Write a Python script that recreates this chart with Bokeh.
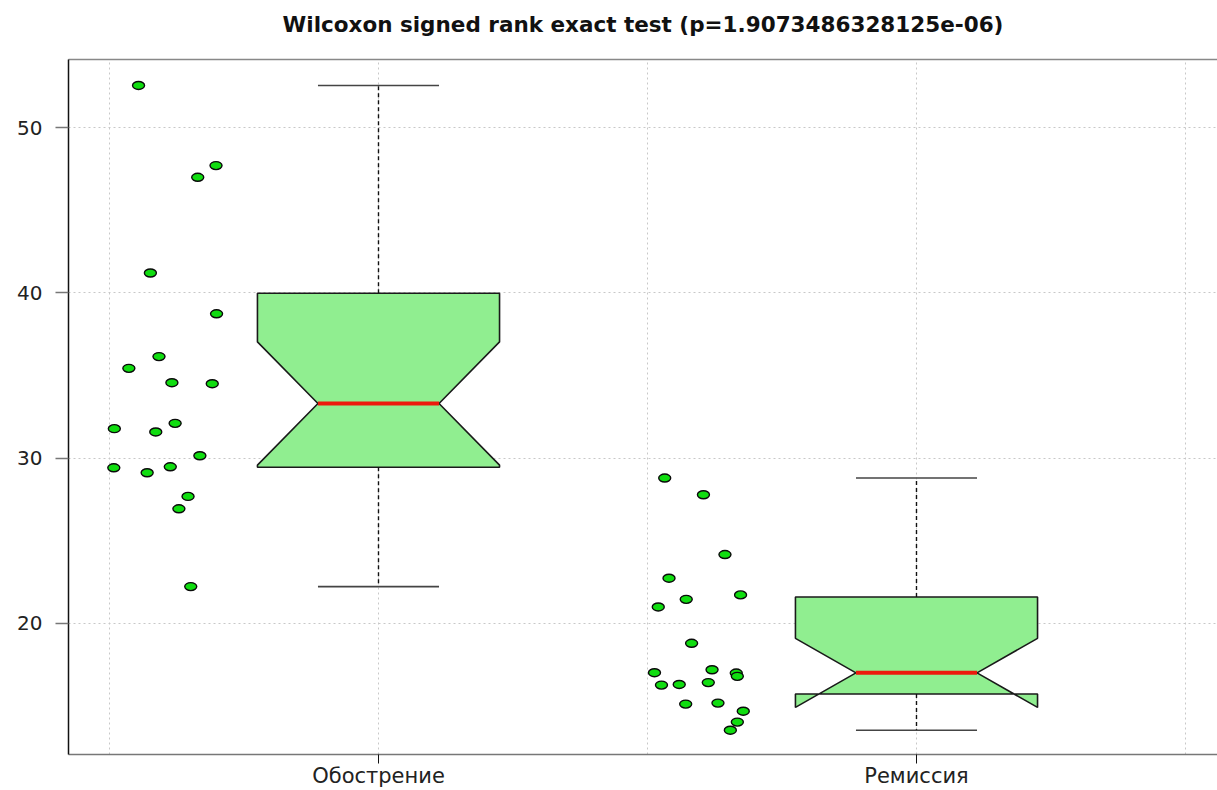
from bokeh.plotting import figure
from bokeh.models import FixedTicker, LinearAxis, Range1d
from bokeh.embed import file_html
from bokeh.resources import INLINE

# Paired measurements, two phases of the disease
categories = ["Обострение", "Ремиссия"]
positions = [1, 2]

# Jittered raw observations (x = jitter position, y = value)
exac_x = [0.554, 0.698, 0.664, 0.576, 0.699, 0.592, 0.536, 0.616, 0.691, 0.622,
          0.509, 0.586, 0.668, 0.508, 0.613, 0.570, 0.646, 0.629, 0.651]
exac_y = [52.55, 47.70, 46.99, 41.20, 38.73, 36.14, 35.43, 34.56, 34.50, 32.10,
          31.78, 31.58, 30.14, 29.41, 29.47, 29.11, 27.68, 26.93, 22.22]

rem_x = [1.532, 1.604, 1.644, 1.540, 1.673, 1.572, 1.520, 1.582, 1.513, 1.620,
         1.665, 1.667, 1.526, 1.559, 1.613, 1.571, 1.631, 1.678, 1.667, 1.654]
rem_y = [28.79, 27.78, 24.16, 22.73, 21.72, 21.45, 20.99, 18.79, 17.01, 17.19,
         16.99, 16.79, 16.26, 16.30, 16.41, 15.11, 15.17, 14.68, 14.02, 13.53]

# Box statistics per group (R boxplot style: whiskers, hinges, median, notch)
whisker_low = [22.22, 13.53]
hinge_low = [29.44, 15.72]
medians = [33.30, 17.00]
hinge_high = [39.97, 21.59]
whisker_high = [52.55, 28.79]
notch_low = [29.57, 14.91]
notch_high = [37.03, 19.09]

p_value = "1.9073486328125e-06"

BOX_HALF = 0.225
NOTCH_HALF = BOX_HALF / 2
FONT = "DejaVu Sans"

p = figure(width=1217, height=790, output_backend="svg", toolbar_location=None,
           x_range=Range1d(0.4238, 2.5595), y_range=Range1d(12.06, 54.12),
           min_border_left=68, min_border_right=0, min_border_top=59,
           min_border_bottom=30)
p.outline_line_color = None
p.background_fill_color = "white"
p.border_fill_color = "white"

p.title.text = f"Wilcoxon signed rank exact test (p={p_value})"
p.title.align = "center"
p.title.text_font = FONT
p.title.text_font_size = "21.5px"
p.title.text_font_style = "bold"
p.title.text_color = "#111111"
p.title.standoff = 2

# Grid
p.xgrid.ticker = FixedTicker(ticks=[0.5, 1, 1.5, 2, 2.5])
p.ygrid.ticker = FixedTicker(ticks=[20, 30, 40, 50])
for g in (p.xgrid, p.ygrid):
    g.grid_line_color = "#c8c8c8"
    g.grid_line_dash = "2 3"
    g.grid_line_width = 1

# Axes
p.yaxis.ticker = FixedTicker(ticks=[20, 30, 40, 50])
p.yaxis.axis_line_color = "#111111"
p.yaxis.axis_line_width = 1.5
p.yaxis.major_tick_line_color = "#777777"
p.yaxis.major_tick_line_width = 1.5
p.yaxis.major_tick_out = 13
p.yaxis.major_tick_in = 0
p.yaxis.minor_tick_line_color = None
p.yaxis.major_label_standoff = 13
p.yaxis.major_label_text_font = FONT
p.yaxis.major_label_text_font_size = "20px"
p.yaxis.major_label_text_color = "#222222"

p.xaxis.ticker = FixedTicker(ticks=positions)
p.xaxis.major_label_overrides = {pos: name for pos, name in zip(positions, categories)}
p.xaxis.axis_line_color = "#777777"
p.xaxis.axis_line_width = 1.5
p.xaxis.major_tick_line_color = "#111111"
p.xaxis.major_tick_out = 9
p.xaxis.major_tick_in = 0
p.xaxis.minor_tick_line_color = None
p.xaxis.major_label_standoff = 0
p.xaxis.major_label_text_font = FONT
p.xaxis.major_label_text_font_size = "21px"
p.xaxis.major_label_text_color = "#222222"

# Top edge of the plotting box; a hidden tick gives the title some clearance
top_edge = LinearAxis(ticker=FixedTicker(ticks=[1.0]), axis_line_color="#888888",
                      axis_line_width=1.5, major_tick_line_color=None,
                      major_tick_out=22, major_tick_in=0,
                      minor_tick_line_color=None, major_label_standoff=0,
                      major_label_text_font_size="0px",
                      major_label_overrides={1.0: ""})
p.add_layout(top_edge, "above")

# Notched boxes
for i, c in enumerate(positions):
    w, wn = BOX_HALF, NOTCH_HALF
    xs = [c - w, c + w, c + w, c + wn, c + w, c + w, c - w, c - w, c - wn, c - w]
    ys = [hinge_low[i], hinge_low[i], notch_low[i], medians[i], notch_high[i],
          hinge_high[i], hinge_high[i], notch_high[i], medians[i], notch_low[i]]
    p.patch(xs, ys, fill_color="#90ee90", line_color="#1a1a1a", line_width=1.6)

    # whiskers
    p.segment(x0=[c, c], y0=[hinge_high[i], hinge_low[i]],
              x1=[c, c], y1=[whisker_high[i], whisker_low[i]],
              line_color="#111111", line_width=1.4, line_dash="4 3")
    # caps
    p.segment(x0=[c - wn, c - wn], y0=[whisker_high[i], whisker_low[i]],
              x1=[c + wn, c + wn], y1=[whisker_high[i], whisker_low[i]],
              line_color="#444444", line_width=1.6)
    # median
    p.segment(x0=[c - wn], y0=[medians[i]], x1=[c + wn], y1=[medians[i]],
              line_color="#ec1a0c", line_width=4)

# Raw observations
for xs, ys in ((exac_x, exac_y), (rem_x, rem_y)):
    p.ellipse(x=xs, y=ys, width=12, height=8, width_units="screen",
              height_units="screen", fill_color="#10dd10", line_color="#0a0a0a",
              line_width=1.4)

open("out.html", "w").write(file_html(p, INLINE))
